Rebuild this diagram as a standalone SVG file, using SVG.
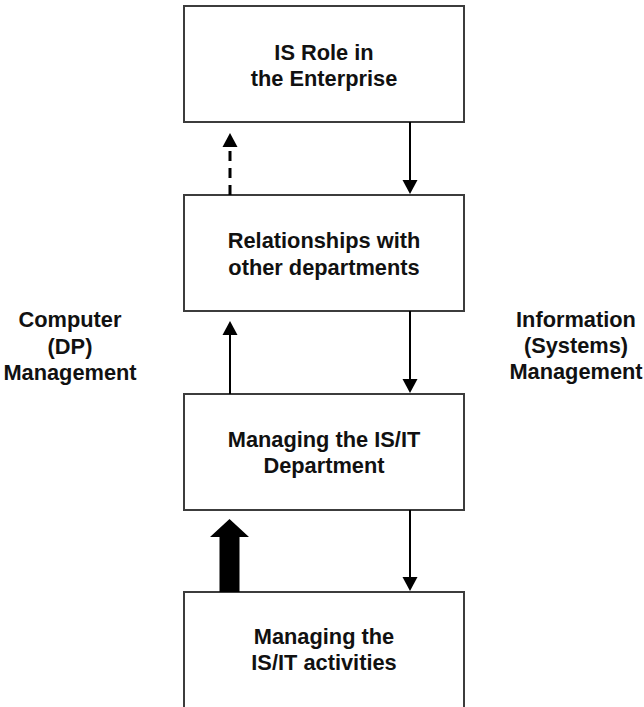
<svg xmlns="http://www.w3.org/2000/svg" width="644" height="707" viewBox="0 0 644 707">
  <style>
    .box { fill: #ffffff; stroke: #3c3c3c; stroke-width: 2; }
    .lbl { font-family: "Liberation Sans", Arial, sans-serif; font-weight: bold; font-size: 21.8px; fill: #111111; text-anchor: middle; }
    .wire { stroke: #000000; stroke-width: 2; fill: none; }
    .dash { stroke: #000000; stroke-width: 3; stroke-dasharray: 10 7; fill: none; }
    .head { fill: #000000; }
  </style>
  <rect width="644" height="707" fill="#ffffff"/>

  <g id="role">
    <rect class="box" x="184" y="6" width="280" height="116"/>
    <text class="lbl" x="324" y="60">IS Role in</text>
    <text class="lbl" x="324" y="86">the Enterprise</text>
  </g>

  <g id="relationships">
    <rect class="box" x="184" y="195" width="280" height="116"/>
    <text class="lbl" x="324" y="248">Relationships with</text>
    <text class="lbl" x="324" y="275">other departments</text>
  </g>

  <g id="department">
    <rect class="box" x="184" y="394" width="280" height="116"/>
    <text class="lbl" x="324" y="447">Managing the IS/IT</text>
    <text class="lbl" x="324" y="473">Department</text>
  </g>

  <g id="activities">
    <path class="box" d="M184 710 V592 H464 V710"/>
    <text class="lbl" x="324" y="644">Managing the</text>
    <text class="lbl" x="324" y="670">IS/IT activities</text>
  </g>

  <g id="computer-management">
    <text class="lbl" x="70" y="327">Computer</text>
    <text class="lbl" x="70" y="354">(DP)</text>
    <text class="lbl" x="70" y="380">Management</text>
  </g>

  <g id="information-management">
    <text class="lbl" x="576" y="327">Information</text>
    <text class="lbl" x="576" y="353">(Systems)</text>
    <text class="lbl" x="576" y="379">Management</text>
  </g>

  <g id="connectors">
    <!-- dashed upward feedback: relationships -> role -->
    <line class="dash" x1="230" y1="195" x2="230" y2="147"/>
    <polygon class="head" points="230,133 222.5,147 237.5,147"/>
    <!-- role -> relationships -->
    <line class="wire" x1="410" y1="122" x2="410" y2="181"/>
    <polygon class="head" points="410,194 402.5,180 417.5,180"/>
    <!-- department -> relationships -->
    <line class="wire" x1="230" y1="394" x2="230" y2="334"/>
    <polygon class="head" points="230,321 222.5,335 237.5,335"/>
    <!-- relationships -> department -->
    <line class="wire" x1="410" y1="311" x2="410" y2="380"/>
    <polygon class="head" points="410,393 402.5,379 417.5,379"/>
    <!-- bold upward arrow: activities -> department -->
    <polygon class="head" points="229.5,519 249,537 239.5,537 239.5,592 219.5,592 219.5,537 210,537"/>
    <!-- department -> activities -->
    <line class="wire" x1="410" y1="510" x2="410" y2="578"/>
    <polygon class="head" points="410,591 402.5,577 417.5,577"/>
  </g>
</svg>
